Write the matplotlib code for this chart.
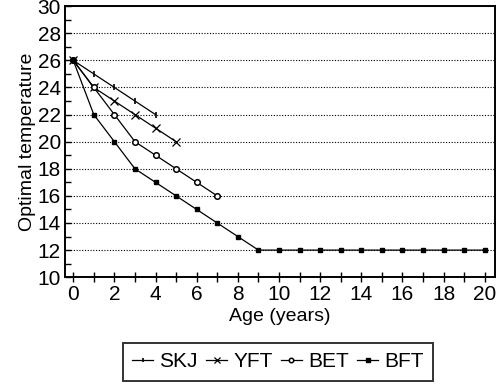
import numpy as np
import matplotlib
matplotlib.use('Agg')
import matplotlib.pyplot as plt
from matplotlib.ticker import MultipleLocator

plt.rcParams['font.family'] = ['Liberation Sans', 'DejaVu Sans']

# ages (years) and optimal temperature per species
age_skj = [0, 1, 2, 3, 4]
temp_skj = [26, 25, 24, 23, 22]
age_yft = [0, 1, 2, 3, 4, 5]
temp_yft = [26, 24, 23, 22, 21, 20]
age_bet = [0, 1, 2, 3, 4, 5, 6, 7]
temp_bet = [26, 24, 22, 20, 19, 18, 17, 16]
age_bft = list(range(0, 21))
temp_bft = [26, 22, 20, 18, 17, 16, 15, 14, 13, 12,
            12, 12, 12, 12, 12, 12, 12, 12, 12, 12, 12]

fig = plt.figure(figsize=(5, 3.85), dpi=100)
ax = fig.add_axes([0.13, 0.28, 0.86, 0.704])

ax.plot(age_skj, temp_skj, color='black', lw=0.9, marker='|', ms=4, mew=1.2, label='SKJ')
ax.plot(age_yft, temp_yft, color='black', lw=0.9, marker='x', ms=5.5, mew=0.9, label='YFT')
ax.plot(age_bet, temp_bet, color='black', lw=0.9, marker='o', ms=4, mfc='white', mew=1.1, label='BET')
ax.plot(age_bft, temp_bft, color='black', lw=0.9, marker='s', ms=3, mfc='black', label='BFT')

ax.set_xlim(-0.4, 20.5)
ax.set_ylim(10, 30)
ax.xaxis.set_major_locator(MultipleLocator(2))
ax.xaxis.set_minor_locator(MultipleLocator(1))
ax.yaxis.set_major_locator(MultipleLocator(2))
ax.yaxis.set_minor_locator(MultipleLocator(1))
ax.tick_params(axis='x', which='both', direction='inout', length=7, width=1, labelsize=15, pad=2)
ax.tick_params(axis='y', which='both', direction='in', length=4, width=1, labelsize=15, pad=3)
ax.grid(axis='y', which='major', linestyle=(0, (1, 1.5)), color='black', lw=0.8)
for s in ax.spines.values():
    s.set_linewidth(1.4)

ax.set_xlabel('Age (years)', fontsize=14, labelpad=3)
ax.set_ylabel('Optimal temperature', fontsize=14, labelpad=1)

leg = fig.legend(*ax.get_legend_handles_labels(), loc='center',
                 bbox_to_anchor=(0.556, 0.06), bbox_transform=fig.transFigure,
                 ncol=4, fontsize=15, frameon=True, fancybox=False, edgecolor='black',
                 handlelength=1.0, handletextpad=0.3, columnspacing=0.4,
                 borderpad=0.45, markerscale=0.8)
leg.get_frame().set_linewidth(1.4)

fig.savefig('out.png', dpi=100)
